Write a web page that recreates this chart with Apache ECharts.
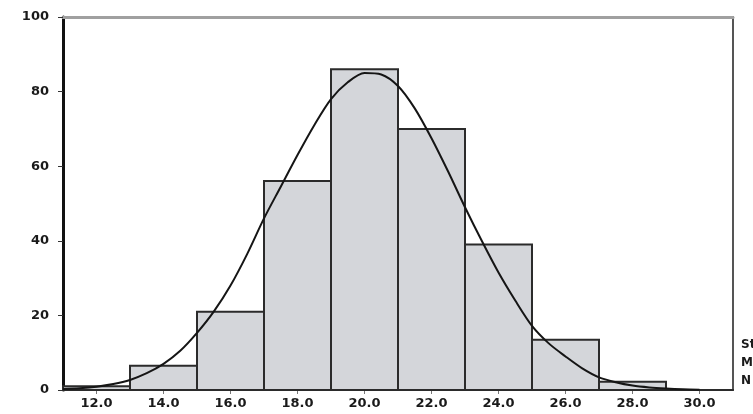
<!DOCTYPE html>
<html>
<head>
<meta charset="utf-8">
<script src="https://cdn.jsdelivr.net/npm/echarts@6/dist/echarts.min.js"></script>
<style>html,body{margin:0;padding:0;background:#fff}#c{width:753px;height:414px}</style>
</head>
<body>
<div id="c"></div>
<script>
// ---- data ----
const binCenters = [12, 14, 16, 18, 20, 22, 24, 26, 28, 30];
const binCounts  = [1, 6.5, 21, 56, 86, 70, 39, 13.5, 2.2, 0];
const binWidth = 2;
const curveX = [11, 11.5, 12, 12.5, 13, 13.5, 14, 14.5, 15, 15.5, 16, 16.5, 17, 17.5, 18, 18.5, 19, 19.5, 20, 20.5, 21, 21.5, 22, 22.5, 23, 23.5, 24, 24.5, 25, 25.5, 26, 26.5, 27, 27.5, 28, 28.5, 29, 29.5, 30];
const curveY = [0.3, 0.5, 0.9, 1.6, 2.7, 4.5, 7, 10.5, 15.3, 21, 28, 36.5, 46, 54.5, 63, 71, 78, 82.5, 85, 84.6, 81.5, 75.5, 67.5, 58.5, 49, 40, 31.5, 24, 17.2, 12.5, 9, 5.8, 3.4, 2.1, 1.2, 0.7, 0.4, 0.2, 0.1];
const xTickLabels = [12, 14, 16, 18, 20, 22, 24, 26, 28, 30];
const statsText = ['Std. Dev = 2.77', 'Mean = 20.1', 'N = 294.00'];

const labelFont = { fontFamily: 'DejaVu Sans', fontWeight: 'bold', fontSize: 13, color: '#1a1a1a' };

const chart = echarts.init(document.getElementById('c'), null, { renderer: 'canvas' });
chart.setOption({
  animation: false,
  backgroundColor: '#ffffff',
  grid: { left: 63, right: 20, top: 17, bottom: 24 },
  xAxis: [{
    type: 'value', min: 11, max: 31, position: 'bottom',
    axisLine: { show: true, onZero: false, lineStyle: { color: '#222', width: 2 } },
    axisTick: { show: true, customValues: xTickLabels, length: 4, lineStyle: { color: '#777', width: 1 } },
    axisLabel: Object.assign({ customValues: xTickLabels, margin: 7, formatter: v => v.toFixed(1) }, labelFont),
    splitLine: { show: false }
  }, {
    type: 'value', min: 11, max: 31, position: 'top',
    axisLine: { show: true, onZero: false, lineStyle: { color: '#a0a0a0', width: 3 } },
    axisTick: { show: false }, axisLabel: { show: false }, splitLine: { show: false }
  }],
  yAxis: [{
    type: 'value', min: 0, max: 100, interval: 20, position: 'left',
    axisLine: { show: true, onZero: false, lineStyle: { color: '#111', width: 3 } },
    axisTick: { show: true, length: 5, inside: false, lineStyle: { color: '#333', width: 1 } },
    axisLabel: Object.assign({ margin: 14 }, labelFont),
    splitLine: { show: false }
  }, {
    type: 'value', min: 0, max: 100, position: 'right',
    axisLine: { show: true, onZero: false, lineStyle: { color: '#555', width: 2 } },
    axisTick: { show: false }, axisLabel: { show: false }, splitLine: { show: false }
  }],
  series: [{
    type: 'custom',
    xAxisIndex: 0, yAxisIndex: 0,
    data: binCenters.map((c, i) => [c, binCounts[i]]),
    renderItem: function (params, api) {
      const cx = api.value(0), v = api.value(1);
      const p0 = api.coord([cx - binWidth / 2, v]);
      const p1 = api.coord([cx + binWidth / 2, 0]);
      return {
        type: 'rect',
        shape: { x: p0[0], y: p0[1], width: p1[0] - p0[0], height: p1[1] - p0[1] },
        style: { fill: '#d4d6da', stroke: '#2b2b2b', lineWidth: 2 }
      };
    },
    z: 2
  }, {
    type: 'line',
    xAxisIndex: 0, yAxisIndex: 0,
    data: curveX.map((x, i) => [x, curveY[i]]),
    smooth: 0.3,
    showSymbol: false,
    lineStyle: { color: '#151515', width: 2 },
    z: 3
  }],
  graphic: statsText.map((t, i) => ({
    type: 'text', left: 741, top: 339 + i * 18,
    style: { text: t, fontFamily: 'DejaVu Sans', fontWeight: 'bold', fontSize: 12, fill: '#1a1a1a' }
  }))
});
</script>
</body>
</html>
